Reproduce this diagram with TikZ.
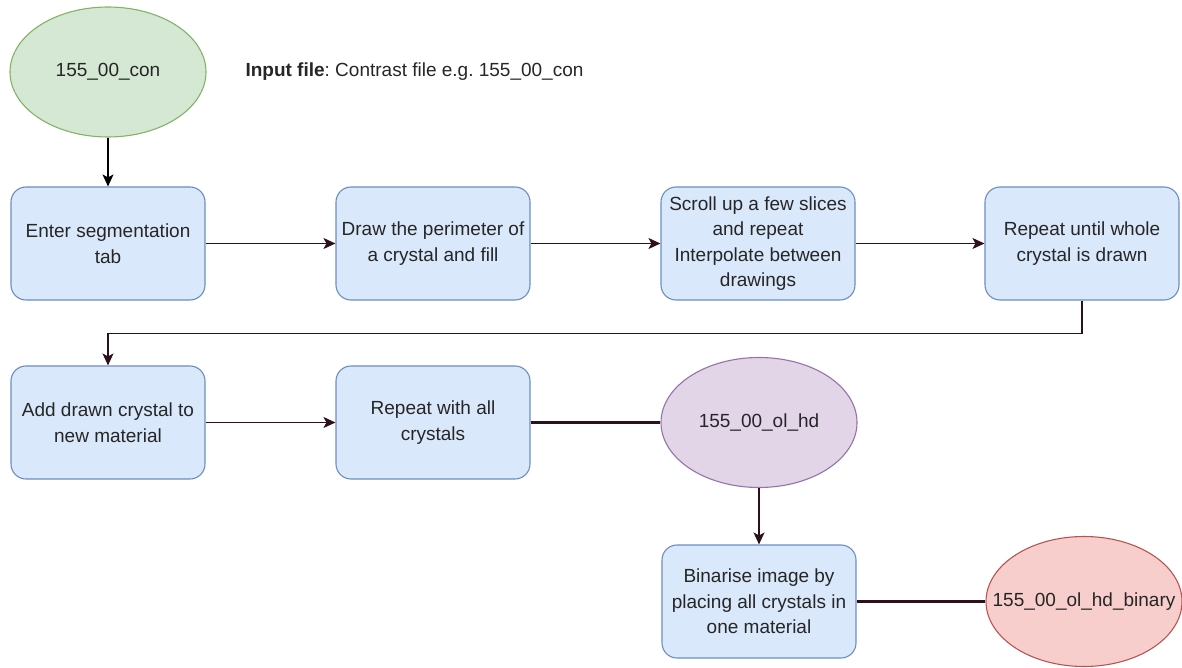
\documentclass[tikz,border=0pt]{standalone}
\usepackage{fontspec}
\setmainfont{Liberation Sans}
\definecolor{flowBlue}{HTML}{DAE8FC}
\definecolor{flowBlueLine}{HTML}{6C8EBF}
\definecolor{flowGreen}{HTML}{D5E8D4}
\definecolor{flowGreenLine}{HTML}{82B366}
\definecolor{flowPurple}{HTML}{E1D5E7}
\definecolor{flowPurpleLine}{HTML}{9673A6}
\definecolor{flowRed}{HTML}{F8CECC}
\definecolor{flowRedLine}{HTML}{B85450}
\definecolor{flowLink}{HTML}{2E0F1C}
\definecolor{flowText}{HTML}{262626}
\usetikzlibrary{shapes.geometric, arrows.meta, positioning}
\newcommand{\flowfont}{\fontsize{19}{25.5}\selectfont\frenchspacing}

\begin{document}
\begin{tikzpicture}[x=1pt, y=-1pt,
  stepbox/.style={rounded corners=15pt, draw=flowBlueLine, fill=flowBlue,
    line width=1.1pt, minimum width=194pt, minimum height=113pt,
    align=center, inner sep=2pt, text=flowText, font=\flowfont},
  fileoval/.style={ellipse, minimum width=196pt, minimum height=130pt,
    inner sep=0pt, line width=1.1pt, text=flowText, font=\flowfont},
  link/.style={-{Stealth[length=12pt, width=11pt, inset=3pt]},
    line width=1.6pt, draw=flowLink},
  joint/.style={line width=3pt, draw=flowLink}]
  \useasboundingbox (0,0) rectangle (1182,668);
  \node[fileoval, fill=flowGreen, draw=flowGreenLine] (con) at (108,72) {155\_00\_con};
  \node[anchor=west, text=flowText, font=\flowfont] (note) at (242,72) {\textbf{Input file}: Contrast file e.g. 155\_00\_con};
  \node[stepbox] (enter) at (108,243.5) {Enter segmentation\\tab};
  \node[stepbox] (perim) at (433,243.5) {Draw the perimeter of\\a crystal and fill};
  \node[stepbox] (scroll) at (758,243.5) {Scroll up a few slices\\and repeat\\Interpolate between\\drawings};
  \node[stepbox] (whole) at (1082,243.5) {Repeat until whole\\crystal is drawn};
  \node[stepbox] (add) at (108,422.5) {Add drawn crystal to\\new material};
  \node[stepbox] (all) at (433,422.5) {Repeat with all\\crystals};
  \node[fileoval, fill=flowPurple, draw=flowPurpleLine] (olhd) at (759,422.5) {155\_00\_ol\_hd};
  \node[stepbox] (binarise) at (759,601.5) {Binarise image by\\placing all crystals in\\one material};
  \node[fileoval, fill=flowRed, draw=flowRedLine,
    label={[font=\flowfont, text=flowText]center:155\_00\_ol\_hd\_binary}] (binary) at (1084,601.5) {};
  \draw[link, draw=black] (con) -- (enter);
  \draw[link] (enter) -- (perim);
  \draw[link] (perim) -- (scroll);
  \draw[link] (scroll) -- (whole);
  \draw[link] (whole.south) -- ++(0,33) -| (add.north);
  \draw[link] (add) -- (all);
  \draw[joint] (all) -- (olhd);
  \draw[link] (olhd) -- (binarise);
  \draw[joint] (binarise) -- (binary);
\end{tikzpicture}
\end{document}
